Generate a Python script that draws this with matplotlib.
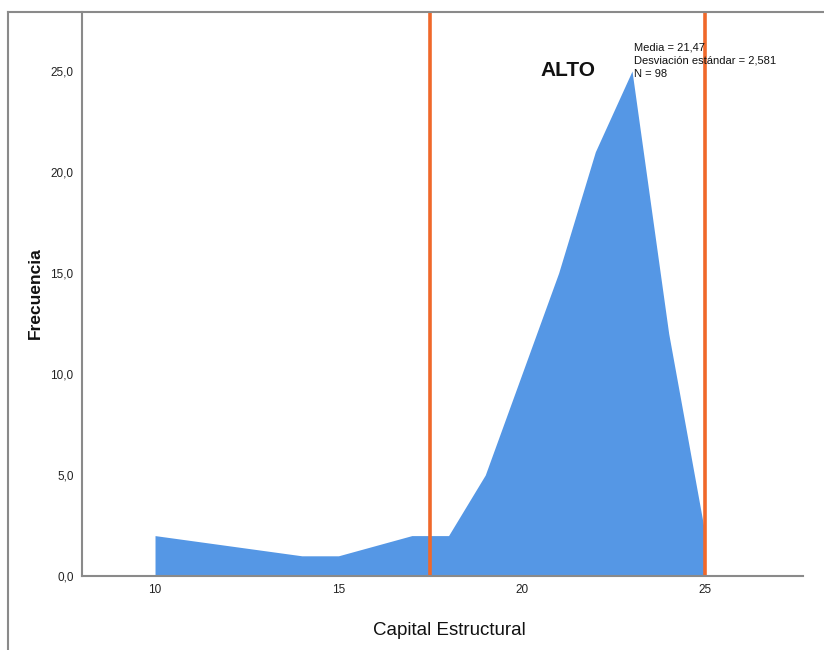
import matplotlib
matplotlib.use("Agg")
import matplotlib.pyplot as plt
from matplotlib.lines import Line2D

capital = [10, 14, 15, 17, 18, 19, 20, 21, 22, 23, 24, 25]
frecuencia = [2, 1, 1, 2, 2, 5, 10, 15, 21, 25, 12, 2]
ref_lines = [17.5, 25.0]
x_ticks = [10, 15, 20, 25]
y_ticks = [0, 5, 10, 15, 20, 25]
stats_text = "Media = 21,47\nDesviación estándar = 2,581\nN = 98"

plt.rcParams['font.family'] = ['Liberation Sans', 'DejaVu Sans']

W, H = 824, 650
fig = plt.figure(figsize=(W / 100, H / 100), dpi=100)
ax = fig.add_axes([82 / W, 1 - 576 / H, (803 - 82) / W, (576 - 12) / H])

ax.fill_between(capital, frecuencia, 0, color='#5597E5', linewidth=0)
for xv in ref_lines:
    ax.axvline(xv, color='#F0682A', linewidth=2.6)

ax.set_xlim(8.01, 27.66)
ax.set_ylim(0, 27.92)
ax.set_xticks(x_ticks)
ax.set_xticklabels([str(v) for v in x_ticks])
ax.set_yticks(y_ticks)
ax.set_yticklabels([f"{v:.1f}".replace('.', ',') for v in y_ticks])
ax.tick_params(length=0, labelsize=8.5, pad=6, colors='#222222')

for s in ['top', 'right']:
    ax.spines[s].set_visible(False)
for s in ['left', 'bottom']:
    ax.spines[s].set_color('#8a8a8a')
    ax.spines[s].set_linewidth(1.5)

ax.text(0.51, -0.0975, "Capital Estructural", fontsize=13.5, ha='center', va='center',
        color='#111111', transform=ax.transAxes)
ax.text(-0.065, 0.502, "Frecuencia", fontsize=12.5, fontweight='bold', rotation=90,
        ha='center', va='center', color='#111111', transform=ax.transAxes)

ax.text(21.25, 25.0, "ALTO", fontsize=15, fontweight='bold', ha='center', va='center',
        color='#111111')
ax.text(23.05, 26.4, stats_text, fontsize=8, ha='left', va='top', linespacing=1.4,
        color='#111111')

# outer frame
fig.add_artist(Line2D([8 / W, 1.0], [1 - 12 / H, 1 - 12 / H], color='#8a8a8a', linewidth=1.5,
                      transform=fig.transFigure))
fig.add_artist(Line2D([8 / W, 8 / W], [1 - 12 / H, 0], color='#8a8a8a', linewidth=1.5,
                      transform=fig.transFigure))

fig.savefig("out.png", dpi=100)
